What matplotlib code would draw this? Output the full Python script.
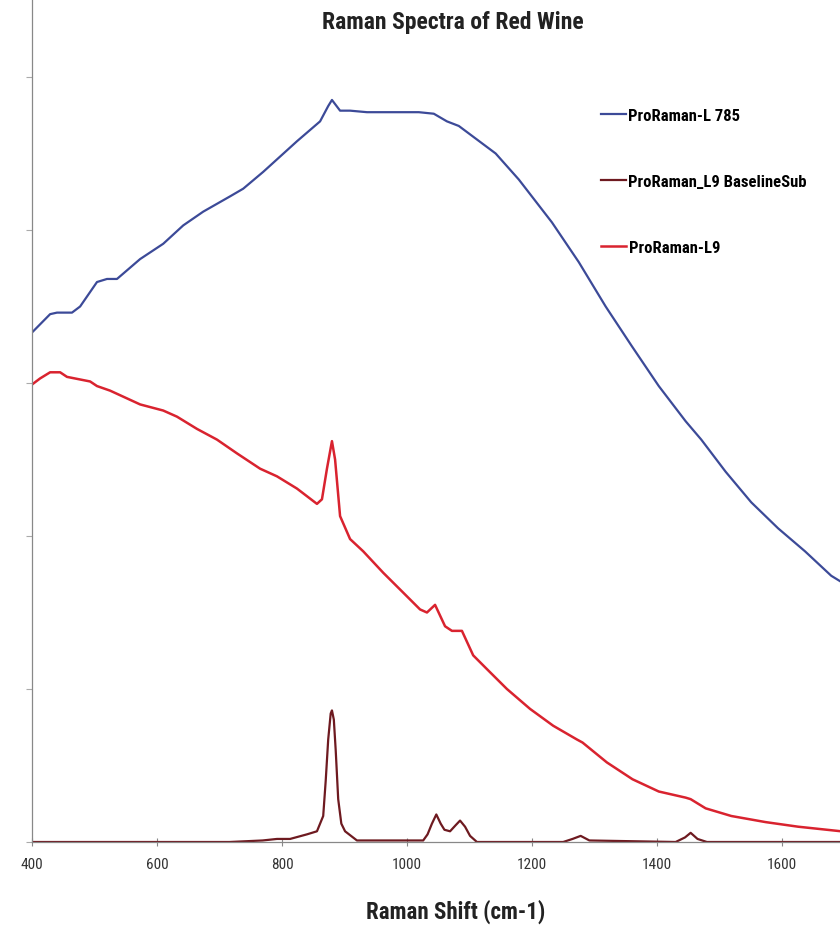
import numpy as np
import matplotlib.pyplot as plt
from matplotlib import font_manager

# Values (x in cm-1, y in arbitrary intensity units)
blue_x = [400, 429, 440, 464, 477, 504, 520, 536, 573, 610, 642, 674, 717, 738, 770,
          797, 824, 861, 874, 880, 893, 909, 936, 984, 1019, 1043, 1064, 1083, 1142,
          1179, 1232, 1275, 1318, 1360, 1403, 1446, 1471, 1510, 1551, 1594, 1637,
          1679, 1695]
blue_y = [3.33, 3.45, 3.46, 3.46, 3.50, 3.66, 3.68, 3.68, 3.81, 3.91, 4.03, 4.12, 4.22,
          4.27, 4.38, 4.48, 4.58, 4.71, 4.81, 4.85, 4.78, 4.78, 4.77, 4.77, 4.77, 4.76,
          4.71, 4.68, 4.50, 4.33, 4.05, 3.79, 3.50, 3.24, 2.98, 2.75, 2.63, 2.42, 2.22,
          2.05, 1.90, 1.74, 1.70]

red_x = [400, 413, 429, 445, 456, 493, 504, 525, 541, 573, 610, 632, 664, 696, 728,
         765, 792, 824, 856, 864, 872, 880, 885, 893, 909, 930, 962, 994, 1021, 1032,
         1045, 1061, 1072, 1088, 1106, 1128, 1160, 1197, 1234, 1272, 1281, 1320, 1361,
         1403, 1446, 1454, 1478, 1519, 1574, 1626, 1695]
red_y = [2.99, 3.03, 3.07, 3.07, 3.04, 3.01, 2.98, 2.95, 2.92, 2.86, 2.82, 2.78, 2.70,
         2.63, 2.54, 2.44, 2.39, 2.31, 2.21, 2.24, 2.44, 2.62, 2.50, 2.13, 1.98, 1.90,
         1.76, 1.63, 1.52, 1.50, 1.55, 1.41, 1.38, 1.38, 1.22, 1.13, 1.00, 0.87, 0.76,
         0.67, 0.65, 0.52, 0.41, 0.33, 0.29, 0.28, 0.22, 0.17, 0.13, 0.10, 0.07]

sub_x = [400, 716, 769, 792, 813, 840, 856, 866, 870, 874, 878, 880, 883, 886, 890,
         895, 901, 920, 978, 1026, 1033, 1040, 1047, 1054, 1060, 1069, 1078, 1085,
         1093, 1101, 1112, 1250, 1265, 1278, 1292, 1430, 1445, 1454, 1465, 1480, 1695]
sub_y = [0.0, 0.0, 0.01, 0.02, 0.02, 0.05, 0.07, 0.17, 0.40, 0.67, 0.84, 0.86, 0.80,
         0.60, 0.28, 0.12, 0.07, 0.01, 0.01, 0.01, 0.05, 0.12, 0.18, 0.12, 0.08, 0.07,
         0.11, 0.14, 0.10, 0.04, 0.0, 0.0, 0.02, 0.04, 0.01, 0.0, 0.03, 0.06, 0.02,
         0.0, 0.0]

labels = ["ProRaman-L 785", "ProRaman_L9 BaselineSub", "ProRaman-L9"]
x_ticks = [400, 600, 800, 1000, 1200, 1400, 1600]

# pick a narrow face if one is installed
names = {f.name for f in font_manager.fontManager.ttflist}
narrow = [n for n in ["Roboto Condensed", "Liberation Sans Narrow", "Open Sans Condensed"]
          if n in names]
fnt = narrow[:1] + ["DejaVu Sans"]
plt.rcParams["font.family"] = fnt
plt.rcParams["font.stretch"] = "condensed"

fig = plt.figure(figsize=(8.4, 9.28), dpi=100)
ax = fig.add_axes([32 / 840, 85 / 928, 1 - 32 / 840, 843 / 928])

l1, = ax.plot(blue_x, blue_y, color="#3c4a98", lw=1.6)
l3, = ax.plot(red_x, red_y, color="#d9232f", lw=1.8)
l2, = ax.plot(sub_x, sub_y, color="#6e1a20", lw=1.6)

ax.set_xlim(400, 1693)
ax.set_ylim(0, 843 / 153)
ax.set_xticks(x_ticks)
ax.set_yticks(np.arange(0, 6))
ax.set_yticklabels([])
for s in ["top", "right"]:
    ax.spines[s].set_visible(False)
for s in ["left", "bottom"]:
    ax.spines[s].set_color("#888888")
    ax.spines[s].set_linewidth(0.9)
ax.tick_params(axis="x", direction="inout", length=6, color="#888888",
               labelsize=11, labelcolor="#333333", pad=8)
ax.tick_params(axis="y", direction="out", length=4, color="#aaaaaa")

fig.text(0.539, 1 - 22 / 928, "Raman Spectra of Red Wine", ha="center", va="center",
         fontsize=17, fontweight="bold", color="#222222")
fig.text(0.543, 1 - 912 / 928, "Raman Shift (cm-1)", ha="center", va="center",
         fontsize=16.5, fontweight="bold", color="#222222")

ax.legend([l1, l2, l3], labels, loc="upper left", bbox_to_anchor=(601 / 840, 1 - 109 / 928),
          bbox_transform=fig.transFigure, frameon=False, handlelength=1.5,
          handletextpad=0.15, labelspacing=3.05, borderpad=0, borderaxespad=0,
          prop={"family": fnt, "weight": "bold", "size": 12, "stretch": "condensed"})

fig.savefig("out.png", dpi=100)
